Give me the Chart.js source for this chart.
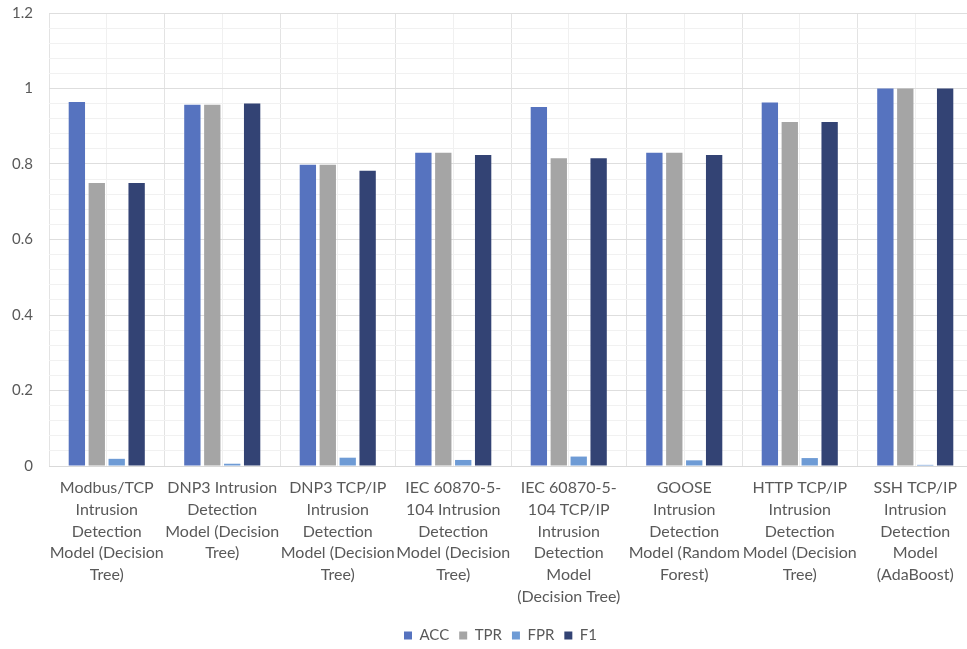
<!DOCTYPE html>
<html>
<head>
<meta charset="utf-8">
<script src="https://cdn.jsdelivr.net/npm/chart.js@4/dist/chart.umd.min.js"></script>
<style>
  html, body { margin: 0; padding: 0; background: #fff; overflow: hidden; }
  #wrap { width: 975px; height: 649px; position: relative; }
</style>
</head>
<body>
<div id="wrap"><canvas id="c"></canvas></div>
<script>
// Model names, one line per entry
const categories = [
  ["Modbus/TCP", "Intrusion", "Detection", "Model (Decision", "Tree)"],
  ["DNP3 Intrusion", "Detection", "Model (Decision", "Tree)"],
  ["DNP3 TCP/IP", "Intrusion", "Detection", "Model (Decision", "Tree)"],
  ["IEC 60870-5-", "104 Intrusion", "Detection", "Model (Decision", "Tree)"],
  ["IEC 60870-5-", "104 TCP/IP", "Intrusion", "Detection", "Model", "(Decision Tree)"],
  ["GOOSE", "Intrusion", "Detection", "Model (Random", "Forest)"],
  ["HTTP TCP/IP", "Intrusion", "Detection", "Model (Decision", "Tree)"],
  ["SSH TCP/IP", "Intrusion", "Detection", "Model", "(AdaBoost)"]
];

// Metrics per model
const acc = [0.964, 0.957, 0.798, 0.830, 0.951, 0.830, 0.963, 1.000];
const tpr = [0.750, 0.957, 0.798, 0.830, 0.815, 0.830, 0.911, 1.000];
const fpr = [0.019, 0.006, 0.022, 0.016, 0.025, 0.015, 0.021, 0.003];
const f1  = [0.750, 0.960, 0.782, 0.824, 0.815, 0.824, 0.911, 1.000];

const seriesNames = ["ACC", "TPR", "FPR", "F1"];
const yTickLabels = ["0", "0.2", "0.4", "0.6", "0.8", "1", "1.2"];

const colors = ["#5673BF", "#A5A5A5", "#6E9BD5", "#334374"];
const textColor = "#595959";
const fontFamily = "Lato, 'Open Sans', sans-serif";

const seriesValues = [acc, tpr, fpr, f1];

// Nudges the legend row sideways so it sits centred under the full figure width
const legendShift = {
  id: "legendShift",
  afterLayout(chart) {
    const lg = chart.legend;
    if (lg) { lg.left += 14; lg.right += 14; }
  }
};

new Chart(document.getElementById("c"), {
  type: "bar",
  data: {
    labels: categories,
    datasets: seriesNames.map((name, i) => ({
      label: name,
      data: seriesValues[i],
      backgroundColor: colors[i],
      borderWidth: 0,
      categoryPercentage: 0.69,
      barPercentage: 0.82
    }))
  },
  plugins: [legendShift],
  options: {
    responsive: true,
    maintainAspectRatio: false,
    animation: false,
    layout: { padding: { left: 0, right: 2, top: 0, bottom: -4 } },
    plugins: {
      tooltip: { enabled: false },
      legend: {
        position: "bottom",
        labels: {
          boxWidth: 8,
          boxHeight: 8,
          padding: 10,
          color: textColor,
          font: { family: fontFamily, size: 15 }
        }
      }
    },
    scales: {
      x: {
        offset: true,
        grid: { offset: true, color: "#E3E3E3", drawTicks: false },
        border: { color: "#D9D9D9" },
        ticks: {
          autoSkip: false,
          maxRotation: 0,
          minRotation: 0,
          padding: 11,
          color: textColor,
          font: { family: fontFamily, size: 16, lineHeight: 1.36 }
        },
        afterFit: s => { s.height = 152; }
      },
      xc: {
        type: "category",
        position: "top",
        offset: true,
        labels: categories,
        grid: { offset: false, color: "#F0F0F0", drawTicks: false },
        border: { display: false },
        ticks: { display: false },
        afterFit: s => { s.height = 0; }
      },
      y: {
        min: 0,
        max: 1.2,
        ticks: {
          stepSize: 0.04,
          autoSkip: false,
          padding: 16,
          color: textColor,
          font: { family: fontFamily, size: 15 },
          callback: (v) => {
            const k = Math.round(v * 100);
            return k % 20 === 0 ? yTickLabels[k / 20] : "";
          }
        },
        grid: {
          drawTicks: false,
          color: (ctx) => {
            const k = Math.round(ctx.tick.value * 100);
            return k % 20 === 0 ? "#DEDEDE" : "#F1F1F1";
          }
        },
        border: { display: false },
        afterFit: s => { s.width = 49; s.paddingTop = 13; s.paddingBottom = 0; }
      }
    }
  }
});
</script>
</body>
</html>
